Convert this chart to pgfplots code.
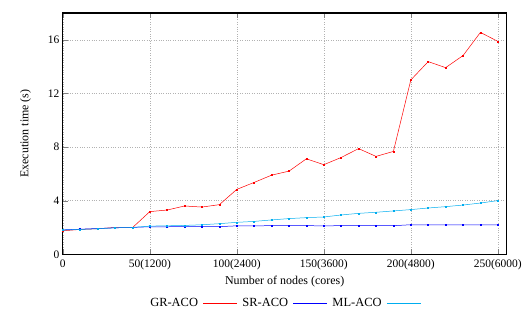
\documentclass[border=0pt]{standalone}
\usepackage{fontspec}
\setmainfont{Liberation Serif}
\usepackage{pgfplots}
\pgfplotsset{compat=1.18}
\begin{document}
\begin{tikzpicture}
\begin{axis}[
  scale only axis, width=445pt, height=242pt,
  xmin=0, xmax=255, ymin=0, ymax=18,
  xtick={0,50,100,150,200,250},
  xticklabels={0,50(1200),100(2400),150(3600),200(4800),250(6000)},
  ytick={0,4,8,12,16},
  ytick pos=left,
  tick align=inside,
  major tick length=5pt,
  axis line style={line width=1.2pt},
  grid=major,
  grid style={gray!60, dotted, line width=0.5pt},
  tick label style={font=\fontsize{11.5}{13}\selectfont},
  xticklabel style={yshift=-2pt},
  label style={font=\fontsize{12}{14}\selectfont},
  /pgf/number format/assume math mode=true,
  xlabel={Number of nodes (cores)},
  ylabel={Execution time (s)},
  xlabel style={yshift=1pt},
  ylabel style={yshift=10pt},
  legend columns=3,
  legend plot pos=right,
  legend image code/.code={\draw[#1] (0pt,0pt) -- (34pt,0pt);},
  legend style={draw=none, at={(0.5,-0.165)}, anchor=north, font=\fontsize{12.5}{14}\selectfont,
    /tikz/column sep=3pt},
  legend cell align=left,
]
\addplot[red, line width=0.5pt, mark=square*, mark size=0.5pt] coordinates {
(0,1.75)(10,1.85)(20,1.9)(30,2.0)(40,1.98)(50,3.18)(60,3.3)(70,3.6)(80,3.52)(90,3.7)
(100,4.84)(110,5.36)(120,5.9)(130,6.2)(140,7.12)(150,6.68)(160,7.22)(170,7.88)(180,7.3)(190,7.67)
(200,13.0)(210,14.37)(220,13.92)(230,14.82)(240,16.55)(250,15.88)};
\addplot[blue, line width=0.5pt, mark=square*, mark size=0.5pt] coordinates {
(0,1.82)(10,1.87)(20,1.92)(30,1.97)(40,2.0)(50,2.05)(60,2.05)(70,2.06)(80,2.06)(90,2.06)
(100,2.12)(110,2.12)(120,2.13)(130,2.13)(140,2.13)(150,2.12)(160,2.13)(170,2.13)(180,2.13)(190,2.13)
(200,2.2)(210,2.2)(220,2.19)(230,2.2)(240,2.2)(250,2.2)};
\addplot[cyan, line width=0.5pt, mark=square*, mark size=0.5pt] coordinates {
(0,1.8)(10,1.85)(20,1.9)(30,1.97)(40,2.0)(50,2.1)(60,2.12)(70,2.15)(80,2.2)(90,2.28)
(100,2.38)(110,2.45)(120,2.56)(130,2.66)(140,2.73)(150,2.78)(160,2.93)(170,3.05)(180,3.13)(190,3.23)
(200,3.33)(210,3.45)(220,3.55)(230,3.67)(240,3.82)(250,4.0)};
\addlegendimage{red, line width=0.6pt}
\addlegendentry{GR-ACO}
\addlegendimage{blue, line width=0.6pt}
\addlegendentry{SR-ACO}
\addlegendimage{cyan, line width=0.6pt}
\addlegendentry{ML-ACO}
\end{axis}
\path[use as bounding box] (current axis.south west) ++(-63pt,-60pt) rectangle ([xshift=17pt,yshift=13pt]current axis.north east);
\end{tikzpicture}
\end{document}
